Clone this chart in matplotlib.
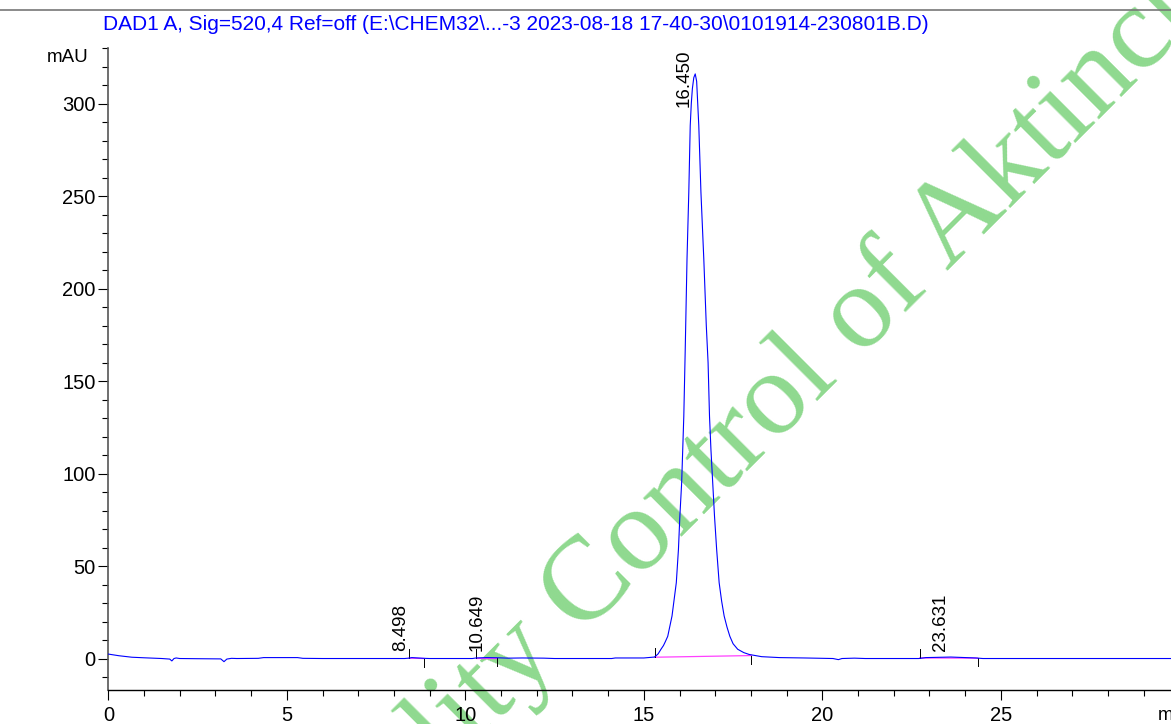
import matplotlib
matplotlib.use('Agg')
import matplotlib.pyplot as plt
from matplotlib.lines import Line2D
from matplotlib.ticker import MultipleLocator

plt.rcParams['font.family'] = ['Liberation Sans', 'DejaVu Sans']

# detector trace (min, mAU)
time_min = [0.0, 0.3, 0.66, 1.0, 1.5, 1.72, 1.78, 1.84, 1.9, 2.0, 2.5, 3.15, 3.24, 3.32, 3.45,
            3.6, 4.2, 4.35, 5.3, 5.45, 6.0, 8.3, 8.42, 8.5, 8.85, 9.0, 10.2, 10.3, 10.6, 10.9,
            11.2, 11.6, 12.2, 12.5, 14.1, 14.2, 15.0, 15.3, 15.4, 15.48, 15.55, 15.6, 15.67,
            15.79, 15.91, 15.97, 16.01, 16.06, 16.09, 16.12, 16.16, 16.21, 16.26, 16.3, 16.33,
            16.36, 16.4, 16.44, 16.48, 16.54, 16.6, 16.68, 16.75, 16.8, 16.84, 16.88, 16.93,
            16.98, 17.04, 17.11, 17.18, 17.25, 17.33, 17.41, 17.5, 17.63, 17.8, 17.95,
            18.3, 18.8, 19.5, 20.3, 20.45, 20.55, 20.9, 21.2, 22.7, 22.9, 23.6, 24.3, 24.5, 30.0]
signal_mau = [2.4, 1.5, 0.7, 0.4, 0.0, -0.3, -1.3, 0.0, 0.3, 0.0, -0.1, -0.2, -1.7, -0.3, 0.1,
              0.0, 0.1, 0.5, 0.5, 0.1, 0.0, 0.0, 0.2, 0.5, 0.1, 0.0, 0.0, 0.3, 0.5, 0.4,
              0.2, 0.3, 0.2, 0.0, 0.0, 0.3, 0.3, 0.8, 2.5, 5, 7, 9, 12,
              23, 41, 59, 77, 95, 113, 131, 167, 216, 252, 288, 300,
              308, 314, 316, 312, 288, 252, 216, 180, 160, 131, 113, 95,
              77, 59, 41, 31, 23, 17, 12, 8, 5, 3.2, 2.2,
              1.0, 0.5, 0.3, 0.0, -0.6, 0.0, 0.2, 0.0, 0.0, 0.5, 0.8, 0.3, 0.0, 0.0]

# integration events
peak_rt = ['8.498', '10.649', '16.450', '23.631']
peak_start = [8.42, 10.30, 15.31, 22.73]
peak_end = [8.85, 10.89, 18.01, 24.35]
base_start = [0.2, 0.2, 0.7, 0.3]
base_end = [0.0, 0.2, 1.6, 0.2]
label_y = [3.8, 3.8, 298, 3.8]

fig = plt.figure(figsize=(11.71, 7.24), dpi=100)

# watermark behind the chart
fig.text(815/1171, 1-404/724, 'Quality Control of Aktinchem', family='Liberation Serif',
         fontsize=86, color='#8fd98f', rotation=45, rotation_mode='anchor',
         ha='center', va='baseline', zorder=-1)

ax = fig.add_axes([0.0925, 0.047, 0.9146, 0.8867])
ax.patch.set_alpha(0)

ax.plot(time_min, signal_mau, color='#0000ff', lw=0.8, zorder=3)

for i in range(len(peak_rt)):
    ax.plot([peak_start[i], peak_end[i]], [base_start[i], base_end[i]], color='#ff40ff', lw=0.9, zorder=2)
    ax.plot([peak_start[i], peak_start[i]], [base_start[i], base_start[i]+5], color='black', lw=0.7)
    ax.plot([peak_end[i], peak_end[i]], [base_end[i], base_end[i]-4.5], color='black', lw=0.7)
    ax.annotate(peak_rt[i], (float(peak_rt[i]), label_y[i]), xytext=(-2, 0), textcoords='offset points',
                rotation=90, ha='right', va='bottom', fontsize=13.5)

ax.set_xlim(0, 30)
ax.set_ylim(-17, 330)
ax.xaxis.set_minor_locator(MultipleLocator(1))
ax.yaxis.set_minor_locator(MultipleLocator(10))
ax.set_xticks([0, 5, 10, 15, 20, 25])
ax.set_yticks([0, 50, 100, 150, 200, 250, 300])
ax.spines['top'].set_visible(False)
ax.spines['right'].set_visible(False)
ax.spines['left'].set_color('#555555')
ax.spines['left'].set_linewidth(1.2)
ax.spines['bottom'].set_linewidth(1.0)
ax.tick_params(which='major', length=7.5, width=0.8, labelsize=14.5)
ax.tick_params(which='minor', length=4, width=0.8)
ax.tick_params(axis='x', pad=4)
ax.tick_params(axis='y', pad=1.5)

fig.text(89/1171, 1-57/724, 'mAU', ha='right', va='center', fontsize=13.5)
fig.text(1158/1171, 1-716/724, 'min', ha='left', va='center', fontsize=13.5)
fig.text(103/1171, 1-25/724,
         'DAD1 A, Sig=520,4 Ref=off (E:\\CHEM32\\...-3 2023-08-18 17-40-30\\0101914-230801B.D)',
         ha='left', va='center', fontsize=15, color='#0000ff')
fig.add_artist(Line2D([0, 1], [1-10/724, 1-10/724], transform=fig.transFigure, color='#777777', lw=1.2))

fig.savefig('out.png', dpi=100)
